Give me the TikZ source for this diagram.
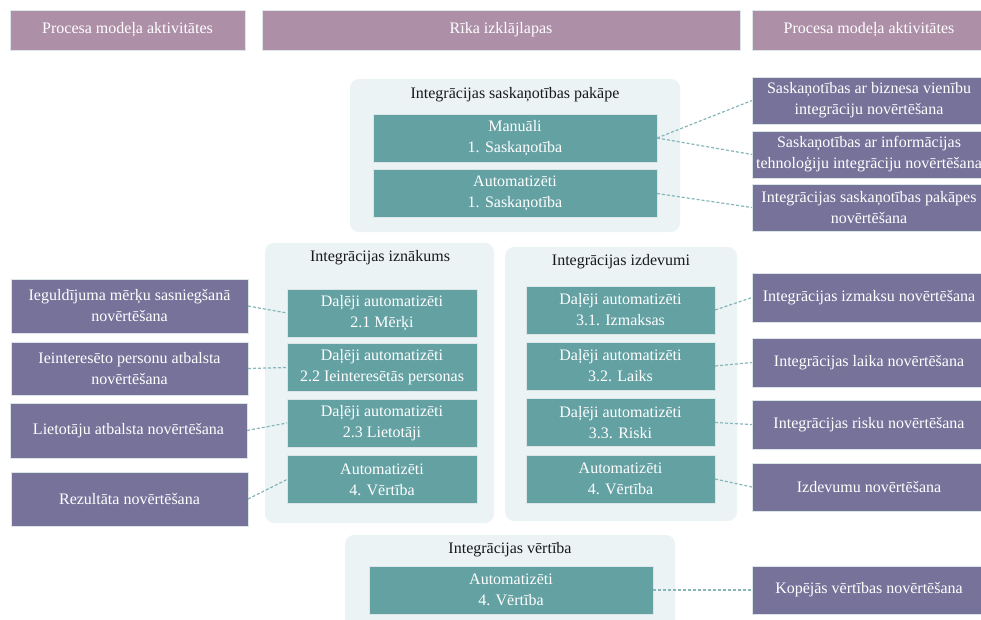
\documentclass[tikz,border=0pt]{standalone}
\usepackage{fontspec}
\setmainfont{Liberation Serif}
\definecolor{headfill}{HTML}{AD8FA8}
\definecolor{panelfill}{HTML}{EBF3F5}
\definecolor{tealbox}{HTML}{64A1A3}
\definecolor{purplebox}{HTML}{76729A}
\definecolor{linkcol}{HTML}{86B6B8}
\definecolor{edgecol}{HTML}{DCE6E8}
\begin{document}
\begin{tikzpicture}[x=1pt,y=-1pt,
  every node/.style={inner sep=0pt,outer sep=0pt,align=center,
    font=\fontsize{16}{21}\selectfont},
  headbox/.style={fill=headfill,draw=edgecol,line width=0.6pt,text=white,minimum height=40pt},
  panel/.style={fill=panelfill,rounded corners=9pt},
  ptitle/.style={text=black!90},
  tbox/.style={fill=tealbox,draw=edgecol,line width=0.6pt,text=white,minimum height=48pt},
  pbox/.style={fill=purplebox,draw=edgecol,line width=0.6pt,text=white,minimum width=234pt},
  link/.style={draw=linkcol,line width=1.2pt,dash pattern=on 3pt off 2pt}
]
\useasboundingbox (0,0) rectangle (981,619);
\clip (0,0) rectangle (981,619);

% column headings
\node[headbox,minimum width=235pt] (h1) at (127.5,30) {Procesa modeļa aktivitātes};
\node[headbox,minimum width=478pt] (h2) at (501,30) {Rīka izklājlapas};
\node[headbox,minimum width=234pt] (h3) at (869,30) {Procesa modeļa aktivitātes};

% background panels
\fill[panel] (350,79) rectangle (680,232);
\fill[panel] (265,243) rectangle (494,523);
\fill[panel] (505,247) rectangle (737,521);
\fill[panel] (345,535) rectangle (675,640);

% panel titles
\node[ptitle] (t1) at (515,95) {Integrācijas saskaņotības pakāpe};
\node[ptitle] (t2) at (380,258) {Integrācijas iznākums};
\node[ptitle] (t3) at (621,262) {Integrācijas izdevumi};
\node[ptitle] (t4) at (510,550) {Integrācijas vērtība};

% alignment
\node[tbox,minimum width=284pt] (m1) at (515,138) {Manuāli\\1. Saskaņotība};
\node[tbox,minimum width=284pt] (a1) at (515,193.5) {Automatizēti\\1. Saskaņotība};

% outcome
\node[tbox,minimum width=190pt] (i1) at (382,313) {Daļēji automatizēti\\2.1 Mērķi};
\node[tbox,minimum width=190pt] (i2) at (382,367.5) {Daļēji automatizēti\\2.2 Ieinteresētās personas};
\node[tbox,minimum width=190pt] (i3) at (382,423) {Daļēji automatizēti\\2.3 Lietotāji};
\node[tbox,minimum width=190pt] (i4) at (382,479.5) {Automatizēti\\4. Vērtība};

% expenses
\node[tbox,minimum width=189pt] (d1) at (620.5,310) {Daļēji automatizēti\\3.1. Izmaksas};
\node[tbox,minimum width=189pt] (d2) at (620.5,366) {Daļēji automatizēti\\3.2. Laiks};
\node[tbox,minimum width=189pt] (d3) at (620.5,422.5) {Daļēji automatizēti\\3.3. Riski};
\node[tbox,minimum width=189pt] (d4) at (620.5,479) {Automatizēti\\4. Vērtība};

% value
\node[tbox,minimum width=284pt] (v1) at (511,590) {Automatizēti\\4. Vērtība};

% process activities, left column
\node[pbox,minimum width=237pt,minimum height=54pt] (l1) at (129.5,306) {Ieguldījuma mērķu sasniegšanā\\novērtēšana};
\node[pbox,minimum width=237pt,minimum height=53pt] (l2) at (129.5,368.5) {Ieinteresēto personu atbalsta\\novērtēšana};
\node[pbox,minimum width=237pt,minimum height=55pt] (l3) at (128.5,430.5) {Lietotāju atbalsta novērtēšana};
\node[pbox,minimum width=237pt,minimum height=54pt] (l4) at (129.5,499) {Rezultāta novērtēšana};

% process activities, right column
\node[pbox,minimum height=47pt] (r1) at (869,100.5) {Saskaņotības ar biznesa vienību\\integrāciju novērtēšana};
\node[pbox,minimum height=47pt] (r2) at (869,154.5) {Saskaņotības ar informācijas\\tehnoloģiju integrāciju novērtēšana};
\node[pbox,minimum height=47pt] (r3) at (869,207.5) {Integrācijas saskaņotības pakāpes\\novērtēšana};
\node[pbox,minimum height=49pt] (q1) at (869,297.5) {Integrācijas izmaksu novērtēšana};
\node[pbox,minimum height=49pt] (q2) at (869,362.5) {Integrācijas laika novērtēšana};
\node[pbox,minimum height=49pt] (q3) at (869,424.5) {Integrācijas risku novērtēšana};
\node[pbox,minimum height=48pt] (q4) at (869,487) {Izdevumu novērtēšana};
\node[pbox,minimum height=48pt] (k1) at (869,590) {Kopējās vērtības novērtēšana};

% dashed links
\draw[link] (m1.east) -- (r1.west);
\draw[link] (m1.east) -- (r2.west);
\draw[link] (a1.east) -- (r3.west);
\draw[link] (l1.east) -- (i1.west);
\draw[link] (l2.east) -- (i2.west);
\draw[link] (l3.east) -- (i3.west);
\draw[link] (l4.east) -- (i4.west);
\draw[link] (d1.east) -- (q1.west);
\draw[link] (d2.east) -- (q2.west);
\draw[link] (d3.east) -- (q3.west);
\draw[link] (d4.east) -- (q4.west);
\draw[link] (v1.east) -- (k1.west);
\end{tikzpicture}
\end{document}
